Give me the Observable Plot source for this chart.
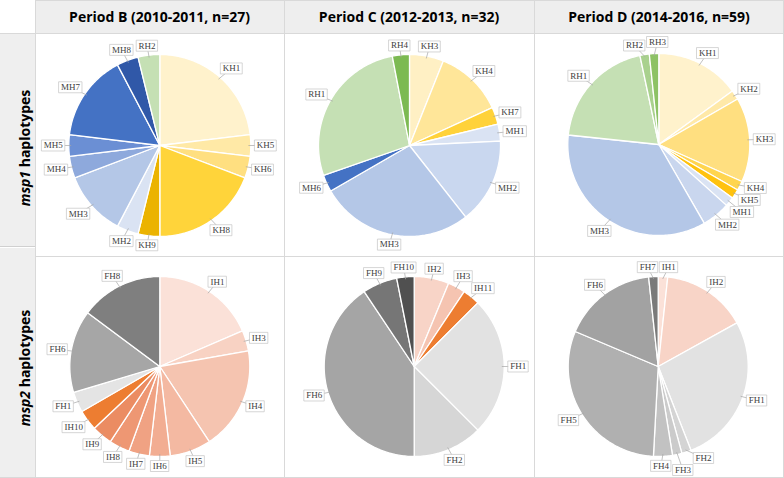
<!DOCTYPE html>
<html><head><meta charset="utf-8">
<script src="https://cdn.jsdelivr.net/npm/d3@7"></script>
<script src="https://cdn.jsdelivr.net/npm/@observablehq/plot@0.6"></script>
<style>
body{margin:0;background:#fff;}
#wrap{position:relative;width:784px;height:478px;overflow:hidden;font-family:"Open Sans",sans-serif;background:#fff;}
.abs{position:absolute;box-sizing:border-box;}
.hdr{background:#eeeeee;display:flex;align-items:center;justify-content:center;font-weight:700;font-size:14px;color:#000;}
.rowlab{background:#efefef;}
.rowtxt{position:absolute;white-space:nowrap;font-weight:700;font-size:14px;color:#000;transform:translate(-50%,-50%) rotate(-90deg);}
.vl{background:#d9d9d9;width:1px;}
.hl{background:#d9d9d9;height:1px;}
</style></head><body><div id="wrap"></div>
<script>
// ---- texts ----
const periodTitles = ["Period B (2010-2011, n=27)", "Period C (2012-2013, n=32)", "Period D (2014-2016, n=59)"];
const geneNames = ["msp1", "msp2"];

// ---- data: haplotype names and counts ----
const bMsp1Names  = ["KH1","KH5","KH6","KH8","KH9","MH2","MH3","MH4","MH5","MH7","MH8","RH2"];
const bMsp1Counts = [6, 1, 1, 5, 1, 1, 3, 1, 1, 4, 1, 1];
const cMsp1Names  = ["KH3","KH4","KH7","MH1","MH2","MH3","MH6","RH1","RH4"];
const cMsp1Counts = [2, 4, 1, 1, 5, 9, 1, 9, 1];
const dMsp1Names  = ["KH1","KH2","KH3","KH4","KH5","MH1","MH2","MH3","RH1","RH2","RH3"];
const dMsp1Counts = [9, 1, 9, 1, 1, 1, 3, 21, 12, 1, 1];
const bMsp2Names  = ["IH1","IH3","IH4","IH5","IH6","IH7","IH8","IH9","IH10","FH1","FH6","FH8"];
const bMsp2Counts = [5, 1, 5, 2, 1, 1, 1, 1, 1, 1, 4, 4];
const cMsp2Names  = ["IH2","IH3","IH11","FH1","FH2","FH6","FH9","FH10"];
const cMsp2Counts = [2, 1, 1, 8, 4, 13, 2, 1];
const dMsp2Names  = ["IH1","IH2","FH1","FH2","FH3","FH4","FH5","FH6","FH7"];
const dMsp2Counts = [1, 9, 16, 1, 1, 2, 18, 10, 1];

// ---- styles (colours per slice) ----
const bMsp1Colors = ["#fff2cc","#ffe9a6","#ffdf80","#ffd43a","#ebb300","#dae3f3","#b4c7e7","#8ea9dc","#6b8fd4","#4472c4","#3058a8","#c5e0b4"];
const cMsp1Colors = ["#fff0c4","#ffe699","#ffd23a","#dae3f3","#c9d7ef","#b4c7e7","#4472c4","#c5e0b4","#7cba52"];
const dMsp1Colors = ["#fff2cc","#ffe9a8","#ffdf80","#ffd54f","#ffc20e","#dae3f3","#c9d6ee","#b4c7e7","#c5e0b4","#a9d18e","#8dc265"];
const bMsp2Colors = ["#fbe1d8","#f8d2c3","#f5c4b0","#f4b9a2","#f2ad92","#f0a283","#ee9773","#eb8c62","#ed7d31","#e4e4e4","#a6a6a6","#7f7f7f"];
const cMsp2Colors = ["#f8d4c7","#f5c4b1","#ed7d31","#e2e2e2","#d6d6d6","#a5a5a5","#767676","#505050"];
const dMsp2Colors = ["#fbe1d8","#f8d4c7","#e2e2e2","#d4d4d4","#cbcbcb","#c2c2c2","#b0b0b0","#a2a2a2","#7a7a7a"];

const pies = [
  {names:bMsp1Names, counts:bMsp1Counts, colors:bMsp1Colors},
  {names:cMsp1Names, counts:cMsp1Counts, colors:cMsp1Colors},
  {names:dMsp1Names, counts:dMsp1Counts, colors:dMsp1Colors},
  {names:bMsp2Names, counts:bMsp2Counts, colors:bMsp2Colors},
  {names:cMsp2Names, counts:cMsp2Counts, colors:cMsp2Colors},
  {names:dMsp2Names, counts:dMsp2Counts, colors:dMsp2Colors}
];

// ---- layout ----
const colX = [35, 284, 534, 784];
const rowY = [33, 256, 478];
const pieCenter = [[124.3,112],[125,112],[124.3,111],[124.3,110],[129.7,110],[123.7,110]];
const pieR = [91, 91, 91, 90, 90, 90];

const wrap = document.getElementById("wrap");
function div(cls, x, y, w, h, html) {
  const d = document.createElement("div");
  d.className = "abs " + cls;
  d.style.left = x + "px"; d.style.top = y + "px";
  if (w != null) d.style.width = w + "px";
  if (h != null) d.style.height = h + "px";
  if (html) d.innerHTML = html;
  wrap.appendChild(d);
  return d;
}
// headers
periodTitles.forEach((t, i) => div("hdr", colX[i], 0, colX[i+1]-colX[i], 33, t));
// row label cells
div("rowlab", 0, 33, 35, 213);
div("rowlab", 0, 248, 35, 230);
const rl = [148, 368];
geneNames.forEach((g, i) => {
  const d = document.createElement("div");
  d.className = "rowtxt";
  d.style.left = "24px"; d.style.top = rl[i] + "px";
  d.innerHTML = `<i>${g}</i> haplotypes`;
  wrap.appendChild(d);
});

const ctx = document.createElement("canvas").getContext("2d");
ctx.font = "9px 'Liberation Serif'";

function buildPie(p, idx) {
  const col = idx % 3, row = Math.floor(idx / 3);
  const W = colX[col+1] - colX[col], H = rowY[row+1] - rowY[row];
  const [cx, cy] = pieCenter[idx];
  const r = pieR[idx];
  const data = p.names.map((n, i) => ({name:n, value:p.counts[i], color:p.colors[i]}));
  const arcs = d3.pie().sort(null).value(d => d.value)(data);
  const slices = arcs.map(a => {
    const ring = [[cx, cy]];
    const n = Math.max(2, Math.ceil((a.endAngle - a.startAngle) / (Math.PI/180)));
    for (let k = 0; k <= n; k++) {
      const t = a.startAngle + (a.endAngle - a.startAngle) * k / n;
      ring.push([cx + r*Math.sin(t), cy - r*Math.cos(t)]);
    }
    ring.push([cx, cy]);
    return {type:"Feature", properties:{color:a.data.color}, geometry:{type:"Polygon", coordinates:[ring]}};
  });
  // labels
  const labs = arcs.map(a => {
    const m = (a.startAngle + a.endAngle) / 2;
    const tw = ctx.measureText(a.data.name).width;
    const w = tw + 4, h = 11;
    const px = cx + (r + 4)*Math.sin(m), py = cy - (r + 4)*Math.cos(m);
    return {name:a.data.name, m, w, h, x: px + Math.sin(m)*w/2, y: py - Math.cos(m)*h/2,
            ax: cx + (r - 2)*Math.sin(m), ay: cy - (r - 2)*Math.cos(m)};
  });
  const clamp = (v, lo, hi) => Math.max(lo, Math.min(hi, v));
  for (let it = 0; it < 120; it++) {
    for (let i = 0; i < labs.length; i++) for (let j = i+1; j < labs.length; j++) {
      const A = labs[i], B = labs[j];
      const ox = (A.w + B.w)/2 + 2 - Math.abs(A.x - B.x);
      const oy = (A.h + B.h)/2 + 1 - Math.abs(A.y - B.y);
      if (ox > 0 && oy > 0) {
        if (ox < oy) { const s = (A.x < B.x ? -1 : 1) * ox/2; A.x += s; B.x -= s; }
        else { const s = (A.y < B.y ? -1 : 1) * oy/2; A.y += s; B.y -= s; }
      }
    }
    labs.forEach(L => {
      const nx = Math.max(L.x - L.w/2, Math.min(cx, L.x + L.w/2));
      const ny = Math.max(L.y - L.h/2, Math.min(cy, L.y + L.h/2));
      const dx = nx - cx, dy = ny - cy, d = Math.hypot(dx, dy);
      if (d < r + 3) { const k = (r + 3 - d); L.x += dx/d*k; L.y += dy/d*k; }
      L.x = clamp(L.x, L.w/2 + 2, W - L.w/2 - 2);
      L.y = clamp(L.y, L.h/2 + 3, H - L.h/2 - 3);
    });
  }
  const leaders = labs.map(L => ({type:"Feature", properties:{}, geometry:{type:"LineString", coordinates:[[L.ax, L.ay],[L.x, L.y]]}}));
  const boxes = labs.map(L => ({type:"Feature", properties:{}, geometry:{type:"Polygon", coordinates:[[
    [L.x - L.w/2, L.y - L.h/2],[L.x + L.w/2, L.y - L.h/2],[L.x + L.w/2, L.y + L.h/2],[L.x - L.w/2, L.y + L.h/2],[L.x - L.w/2, L.y - L.h/2]]]}}));
  const chart = Plot.plot({
    width: W, height: H, margin: 0,
    style: {background: "transparent"},
    color: {type: "identity"},
    projection: {type: "identity", domain: {type:"Polygon", coordinates:[[[0,0],[W,0],[W,H],[0,H],[0,0]]]}},
    marks: [
      Plot.geo(slices, {fill: d => d.properties.color, stroke: "white", strokeWidth: 1.3}),
      Plot.geo(leaders, {stroke: "#a6a6a6", strokeWidth: 0.7}),
      Plot.geo(boxes, {fill: "white", stroke: "#c4c4c4", strokeWidth: 0.7}),
      Plot.text(labs, {x: "x", y: "y", text: "name", fontFamily: "Liberation Serif", fontSize: 9, fill: "#404040"})
    ]
  });
  chart.style.position = "absolute";
  chart.style.left = colX[col] + "px";
  chart.style.top = rowY[row] + "px";
  wrap.appendChild(chart);
}
pies.forEach(buildPie);

// grid lines
div("hl", 35, 0, 749, null);
div("hl", 0, 33, 784, null);
div("hl", 35, 256, 749, null);
div("hl", 0, 477, 784, null);
div("hl", 0, 246, 35, null).style.background = "#d0d0d0";
div("vl", 35, 0, null, 478);
div("vl", 284, 0, null, 478);
div("vl", 534, 0, null, 478);
div("vl", 783, 0, null, 478);
</script></body></html>
